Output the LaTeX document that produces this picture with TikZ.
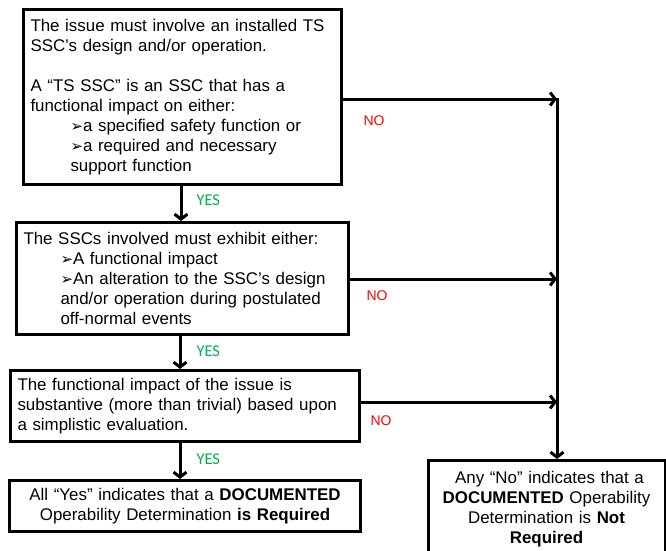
\documentclass[tikz,border=0pt]{standalone}
\usepackage{fontspec}
\setmainfont{Liberation Sans}
\newfontfamily\dejavu{DejaVu Sans}
\newfontfamily\carlito{Carlito}
\usetikzlibrary{arrows.meta,calc}
\definecolor{yesgreen}{RGB}{0,176,80}
\definecolor{nored}{RGB}{255,0,0}
\newcommand{\bul}{{\dejavu\fontsize{15}{20}\selectfont ➢}}
\begin{document}
\begin{tikzpicture}[x=1pt,y=-1pt,
  box/.style={draw=black, line width=3pt, rectangle, anchor=north west, inner xsep=6pt, inner ysep=2pt, font=\fontsize{16.9}{20}\selectfont},
  arr/.style={draw=black, line width=3pt, -{Straight Barb[length=5pt,width=13pt]}},
  yes/.style={text=yesgreen, font=\carlito\fontsize{16.5}{18}\selectfont, anchor=west},
  no/.style={text=nored, font=\fontsize{14}{16}\selectfont, anchor=west}]
\clip (0,0) rectangle (666,550);
\fill[white] (0,0) rectangle (666,550);
% boxes
\node[box, minimum width=318pt, minimum height=175pt, text width=304pt, align=left] (b1) at (22,8)
 {The issue must involve an installed TS\\SSC’s design and/or operation.\\[20pt]A “TS SSC” is an SSC that has a\\functional impact on either:\\
 \hspace*{40pt}\bul a specified safety function or\\
 \hspace*{40pt}\bul a required and necessary\\
 \hspace*{40pt}support function};
\node[box, minimum width=332pt, minimum height=112pt, text width=318pt, align=left] (b2) at (15,221)
 {The SSCs involved must exhibit either:\\
 \hspace*{37pt}\bul A functional impact\\
 \hspace*{37pt}\bul An alteration to the SSC’s design\\
 \hspace*{37pt}and/or operation during postulated\\
 \hspace*{37pt}off-normal events};
\node[box, minimum width=349pt, minimum height=71pt, text width=335pt, align=left] (b3) at (9,369)
 {The functional impact of the issue is\\substantive (more than trivial) based upon\\a simplistic evaluation.};
\node[box, minimum width=351pt, minimum height=51pt, text width=337pt, align=center] (b4) at (8,479)
 {All “Yes” indicates that a \textbf{DOCUMENTED}\\Operability Determination \textbf{is Required}};
\node[box, minimum width=237pt, minimum height=97pt, text width=223pt, align=center, anchor=north] (b5) at (546.5,459)
 {\hspace*{6pt}Any “No” indicates that a\\\textbf{DOCUMENTED} Operability\\Determination is \textbf{Not}\\\textbf{Required}};
% junction coordinates
\coordinate (top) at (557,97.5);
\coordinate (j1) at (557,99);
\coordinate (j2) at (557,279);
\coordinate (j3) at (557,402);
% yes arrows
\draw[arr] (b1.south -| 181,0) -- (b2.north -| 181,0);
\draw[arr] (b2.south -| 180,0) -- (b3.north -| 180,0);
\draw[arr] (b3.south -| 180,0) -- (b4.north -| 180,0);
% no arrows
\draw[arr] (b1.east |- j1) -- (j1);
\draw[arr] (b2.east |- j2) -- (j2);
\draw[arr] (b3.east |- j3) -- (j3);
\draw[arr] (top) -- (b5.north -| top);
% labels
\node[yes] (y1) at (193,200) {YES};
\node[yes] (y2) at (193,351) {YES};
\node[yes] (y3) at (193,459) {YES};
\node[no] (n1) at (360,121) {NO};
\node[no] (n2) at (363,296) {NO};
\node[no] (n3) at (367,421) {NO};
\end{tikzpicture}
\end{document}
